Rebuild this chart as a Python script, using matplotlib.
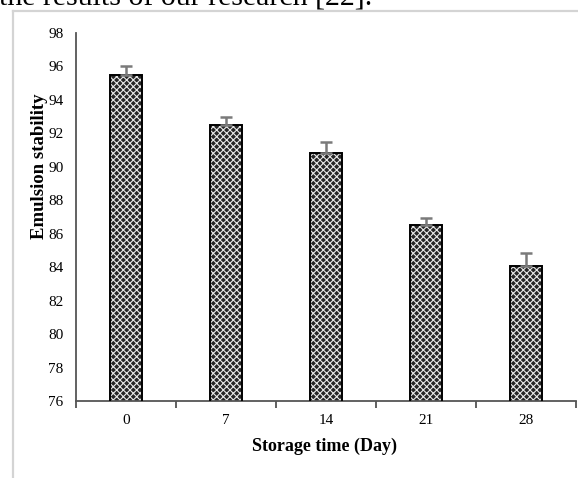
import matplotlib
matplotlib.use("Agg")
import matplotlib.pyplot as plt
import numpy as np

days = ["0", "7", "14", "21", "28"]
stability = [95.5, 92.5, 90.8, 86.5, 84.1]
errors = [0.5, 0.5, 0.7, 0.45, 0.75]
y_ticks = [76, 78, 80, 82, 84, 86, 88, 90, 92, 94, 96, 98]

plt.rcParams['font.family'] = ['Liberation Serif', 'DejaVu Serif']
plt.rcParams['hatch.linewidth'] = 0.8

W, H = 578, 478
fig = plt.figure(figsize=(W / 100, H / 100), dpi=100)
fig.patch.set_facecolor('white')

# page text cut off at top
fig.text(-0.002, 1 - 5 / H, "the results of our research [22].", fontsize=21.5,
         va='baseline', ha='left', color='black')

# frame lines
fig.add_artist(plt.Line2D([13 / W, 13 / W], [0, 1 - 11 / H], transform=fig.transFigure,
                          color='#d4d4d4', lw=1.6))
fig.add_artist(plt.Line2D([13 / W, 1], [1 - 11 / H, 1 - 11 / H], transform=fig.transFigure,
                          color='#d4d4d4', lw=1.6))

ax = fig.add_axes([76 / W, 1 - 401 / H, 500 / W, 368 / H])
x = np.arange(len(days))
bw = 0.32
ax.bar(x, stability, width=bw, bottom=0, color='#262626', edgecolor='#e8e8e8',
       hatch='xxxxx', linewidth=0, zorder=2)
ax.bar(x, stability, width=bw, fill=False, edgecolor='black', linewidth=1.4, zorder=3)
ax.errorbar(x, stability, yerr=[np.zeros(len(errors)), errors], fmt='none',
            ecolor='#7a7a7a', elinewidth=1.8, capsize=4, capthick=1.8, zorder=4)

ax.set_xlim(-0.5, len(days) - 0.5)
ax.set_ylim(76, 98)
ax.set_yticks(y_ticks)
ax.set_yticklabels([str(t) for t in y_ticks], fontsize=11)
ax.set_xticks(x)
ax.set_xticklabels(days, fontsize=11)
ax.set_xticks(np.arange(-0.5, len(days)), minor=True)
ax.tick_params(axis='x', which='major', length=0, pad=9)
ax.tick_params(axis='x', which='minor', length=5, width=1.2, color='#444444')
ax.tick_params(axis='y', length=0, pad=9)
for s in ['top', 'right']:
    ax.spines[s].set_visible(False)
for s in ['left', 'bottom']:
    ax.spines[s].set_color('#555555')
    ax.spines[s].set_linewidth(1.3)

fig.text(40 / W, 1 - 166 / H, "Emulsion stability", rotation=90, fontsize=13.5,
         fontweight='bold', ha='center', va='center')
fig.text(324 / W, 1 - 446 / H, "Storage time (Day)", fontsize=13,
         fontweight='bold', ha='center', va='center')

fig.savefig("out.png", dpi=100)
